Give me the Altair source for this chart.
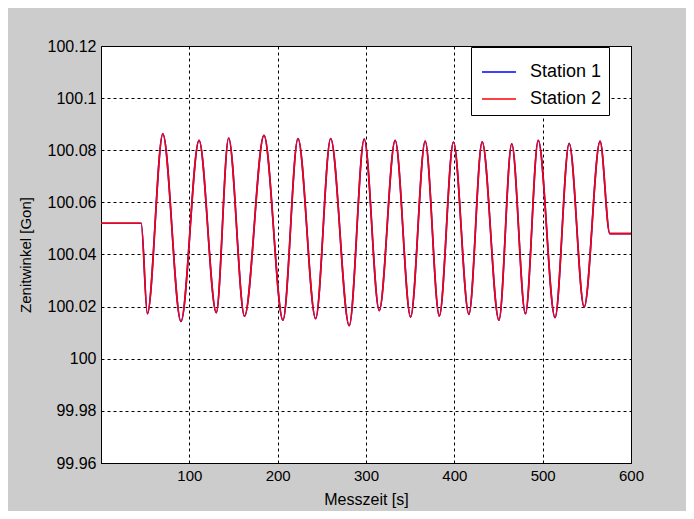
import altair as alt
import pandas as pd

# Time stamps [s] of the read-off key points (flat segments and extrema)
t_s1 = [0, 10, 20, 30, 40, 45.5, 52.5, 70, 90.5, 111, 130.5, 144.5, 162.5, 184.5,
        206, 223, 243, 260, 281, 298, 315, 333, 350.5, 367, 383, 399, 416.5,
        431.5, 450.5, 465, 480.5, 495, 514, 530, 547, 565, 576, 585, 600]
v_s1 = [100.052, 100.052, 100.052, 100.052, 100.052, 100.052, 100.0173, 100.0863,
        100.0143, 100.0838, 100.0177, 100.0847, 100.0163, 100.0857, 100.0148,
        100.0845, 100.0154, 100.0845, 100.0127, 100.0843, 100.0185, 100.0838,
        100.0160, 100.0835, 100.0164, 100.0831, 100.0170, 100.0832, 100.0148,
        100.0825, 100.0173, 100.0838, 100.0158, 100.0826, 100.0198, 100.0835,
        100.048, 100.048, 100.048]
t_s2 = list(t_s1)
v_s2 = list(v_s1)

x_ticks = [100, 200, 300, 400, 500, 600]
y_ticks = [99.96, 99.98, 100.0, 100.02, 100.04, 100.06, 100.08, 100.1, 100.12]
series = ["Station 1", "Station 2"]
colors = ["#0000ff", "#ff0000"]

df = pd.concat([
    pd.DataFrame({"t": t_s1, "v": v_s1, "Station": series[0]}),
    pd.DataFrame({"t": t_s2, "v": v_s2, "Station": series[1]}),
])

FONT = "Liberation Sans"

color = alt.Color(
    "Station:N",
    scale=alt.Scale(domain=series, range=colors),
    legend=alt.Legend(
        title=None, orient="none", legendX=370, legendY=1,
        fillColor="white", strokeColor="black", padding=7,
        symbolType="stroke", symbolSize=1156, symbolStrokeWidth=1.5,
        symbolOffset=3,
        labelFont=FONT, labelFontSize=18, labelColor="black",
        labelOffset=13, rowPadding=-3, labelLimit=240,
        labelExpr="datum.label + '\u00a0\u00a0\u00a0\u00a0\u00a0'",
    ),
)
x = alt.X("t:Q", scale=alt.Scale(domain=[0, 600], nice=False, zero=False),
          axis=alt.Axis(values=x_ticks, title="Messzeit [s]", titlePadding=8,
                        labelFlush=False))
y = alt.Y("v:Q", scale=alt.Scale(domain=[99.96, 100.12], nice=False, zero=False),
          axis=alt.Axis(values=y_ticks, format="~g", title="Zenitwinkel [Gon]",
                        titlePadding=14, labelFlush=False))

base = alt.Chart(df)
blue = base.transform_filter(alt.datum.Station == series[0]).mark_line(
    strokeWidth=1.7, interpolate="monotone", clip=True
).encode(x=x, y=y, color=color)
red = base.transform_filter(alt.datum.Station == series[1]).mark_line(
    strokeWidth=1.6, interpolate="monotone", clip=True
).encode(x=x, y=y, color=color)

chart = alt.layer(blue, red).properties(
    width=530, height=417,
    autosize=alt.AutoSizeParams(type="none"),
    padding={"left": 93, "top": 38, "right": 55, "bottom": 48},
    background="#cccccc",
).configure_view(
    stroke="black", strokeWidth=1, fill="white"
).configure_axis(
    grid=True, gridColor="black", gridDash=[3, 3], gridWidth=1, gridOpacity=1,
    domainColor="black", domainWidth=1, ticks=False,
    labelFont=FONT, labelFontSize=15, labelColor="black", labelPadding=5,
    titleFont=FONT, titleFontSize=15, titleColor="black", titleFontWeight="normal",
).configure_axisY(labelFontSize=16).configure_axisX(titleFontSize=16)

chart.save("out.html", embed_options={"renderer": "svg", "actions": False})
